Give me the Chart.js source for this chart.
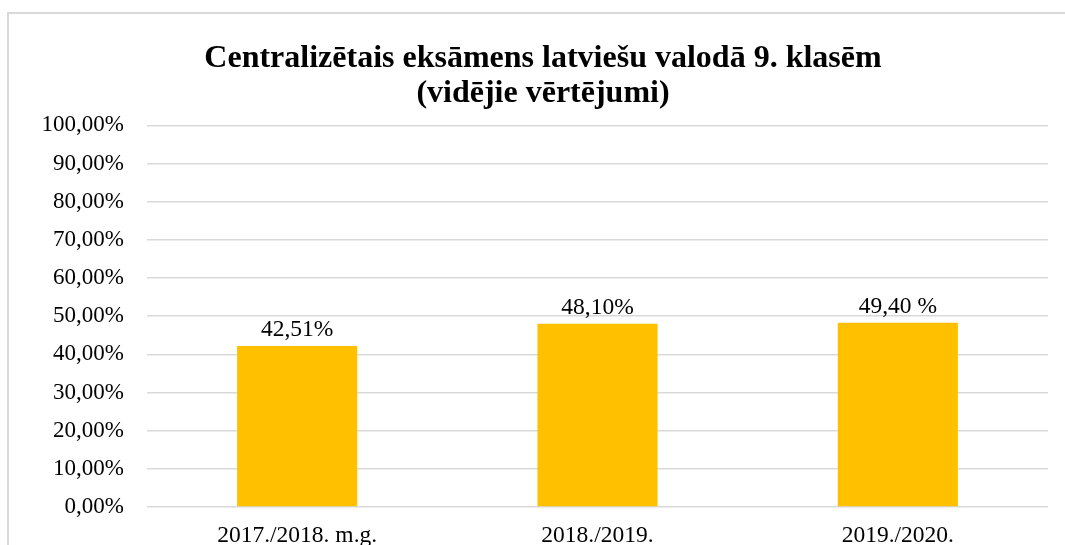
<!DOCTYPE html>
<html>
<head>
<meta charset="utf-8">
<script src="https://cdn.jsdelivr.net/npm/chart.js@4.4.1/dist/chart.umd.min.js"></script>
<style>
  html, body { margin: 0; padding: 0; background: #fff; }
  #wrap { position: relative; width: 1065px; height: 545px; overflow: hidden; }
  #frame { position: absolute; left: 7px; top: 12px; width: 1200px; height: 700px; border: 2px solid #d9d9d9; box-sizing: border-box; }
  canvas { position: absolute; left: 0; top: 0; }
</style>
</head>
<body>
<div id="wrap">
  <div id="frame"></div>
  <canvas id="c" width="1065" height="545"></canvas>
</div>
<script>
const titleLines = ["Centralizētais eksāmens latviešu valodā 9. klasēm", "(vidējie vērtējumi)"];
const categories = ["2017./2018. m.g.", "2018./2019.", "2019./2020."];
const barValues = [42.2, 48.0, 48.3];
const barLabels = ["42,51%", "48,10%", "49,40 %"];
const yTicks = [0, 10, 20, 30, 40, 50, 60, 70, 80, 90, 100];

const SERIF = "'Liberation Serif', 'Times New Roman', serif";

const dataLabelPlugin = {
  id: 'dataLabels',
  afterDatasetsDraw(chart) {
    const ctx = chart.ctx;
    const meta = chart.getDatasetMeta(0);
    ctx.save();
    ctx.font = "23.5px " + SERIF;
    ctx.fillStyle = "#000";
    ctx.textAlign = "center";
    ctx.textBaseline = "alphabetic";
    meta.data.forEach((bar, i) => {
      ctx.fillText(barLabels[i], bar.x, bar.y - 10);
    });
    ctx.restore();
  }
};

new Chart(document.getElementById('c'), {
  type: 'bar',
  data: {
    labels: categories,
    datasets: [{
      data: barValues,
      backgroundColor: '#FFC000',
      borderWidth: 0,
      categoryPercentage: 1.0,
      barPercentage: 0.4
    }]
  },
  options: {
    responsive: false,
    animation: false,
    events: [],
    layout: { padding: { left: 38, right: 17, top: 0, bottom: 0 } },
    plugins: {
      legend: { display: false },
      tooltip: { enabled: false },
      title: {
        display: true,
        text: titleLines,
        color: '#000',
        font: { family: SERIF, size: 32, weight: 'bold', lineHeight: 1.1 },
        padding: { top: 41, bottom: 14 }
      }
    },
    scales: {
      x: {
        grid: { display: false },
        border: { display: false },
        ticks: {
          color: '#000',
          font: { family: SERIF, size: 23.5 },
          padding: 7,
          maxRotation: 0,
          autoSkip: false
        },
        afterFit(scale) { scale.height = 545 - 507; }
      },
      y: {
        min: 0,
        max: 100,
        afterBuildTicks(scale) { scale.ticks = yTicks.map(v => ({ value: v })); },
        grid: { color: '#d9d9d9', lineWidth: 1.5, drawTicks: false },
        border: { display: false },
        ticks: {
          color: '#000',
          font: { family: SERIF, size: 23 },
          padding: 23,
          callback: (v) => v.toFixed(2).replace('.', ',') + '%'
        },
        afterFit(scale) { scale.width = 109; }
      }
    }
  },
  plugins: [dataLabelPlugin]
});
</script>
</body>
</html>
